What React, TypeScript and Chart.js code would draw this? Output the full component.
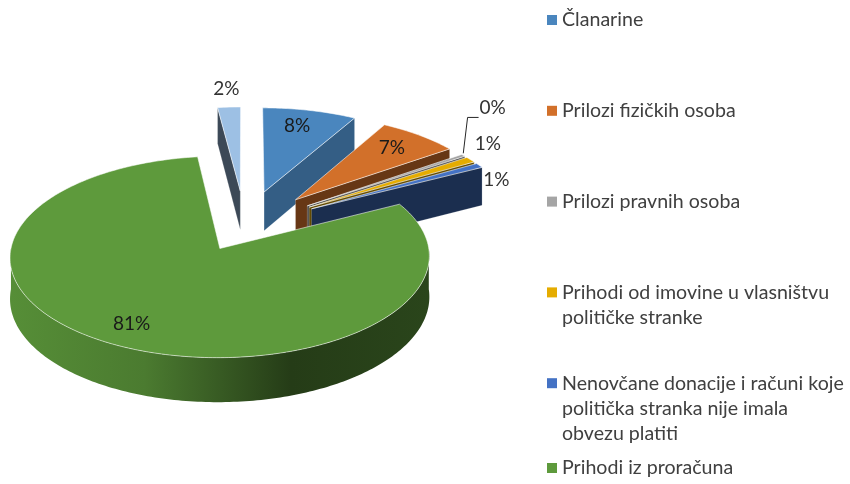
import React, { useEffect, useRef } from "react";
import { Chart, registerables } from "chart.js";

Chart.register(...registerables);

// ---------- data ----------
const categories = [
  "Članarine",
  "Prilozi fizičkih osoba",
  "Prilozi pravnih osoba",
  "Prihodi od imovine u vlasništvu političke stranke",
  "Nenovčane donacije i računi koje politička stranka nije imala obvezu platiti",
  "Prihodi iz proračuna",
  "Ostali prihodi",
];
const legendLines = [
  ["Članarine"],
  ["Prilozi fizičkih osoba"],
  ["Prilozi pravnih osoba"],
  ["Prihodi od imovine u vlasništvu", "političke stranke"],
  ["Nenovčane donacije i računi koje", "politička stranka nije imala", "obvezu platiti"],
  ["Prihodi iz proračuna"],
];
const values = [8.2, 7.0, 0.4, 1.0, 0.8, 80.6, 2.0];

// ---------- styles ----------
const sliceColors = ["#4A86BE", "#D2702A", "#A5A5A5", "#E5AC00", "#4472C4", "#5E9A3C", "#9DC0E4"];
const sliceOffsets = [77, 77, 77, 77, 77, 53, 77];
const TILT = 0.47;
const PERSP = 1 / 2500;
const DEPTH = 40;
const RADIUS = 205;
const FONT = "Lato, 'Liberation Sans', sans-serif";

function shade(hex: string, f: number) {
  const n = parseInt(hex.slice(1), 16);
  const c = (v: number) => Math.max(0, Math.min(255, Math.round(v * f)));
  return `rgb(${c((n >> 16) & 255)},${c((n >> 8) & 255)},${c(n & 255)})`;
}

type P = { x: number; y: number; sc: number };

const pie3dPlugin = {
  id: "pie3d",
  beforeDatasetsDraw(chart: any) {
    const ctx: CanvasRenderingContext2D = chart.ctx;
    const meta = chart.getDatasetMeta(0);
    const total = values.reduce((a, b) => a + b, 0);
    const slices = meta.data.map((arc: any, i: number) => {
      const p = arc.getProps(["x", "y", "startAngle", "endAngle", "outerRadius"], true);
      const off = arc.options.offset || 0;
      const mid = (p.startAngle + p.endAngle) / 2;
      return {
        i,
        cx: p.x,
        cy: p.y,
        s: p.startAngle,
        e: p.endAngle,
        R: p.outerRadius,
        mid,
        ou: Math.cos(mid) * off,
        ov: Math.sin(mid) * off,
      };
    });
    const proj = (sl: any, u: number, v: number, z: number): P => {
      const U = sl.ou + u;
      const V = sl.ov + v;
      const sc = 1 / (1 - PERSP * V);
      return { x: sl.cx + U * sc, y: sl.cy + (TILT * V + z) * sc, sc };
    };
    const pt = (sl: any, a: number, r: number, z: number) => proj(sl, r * Math.cos(a), r * Math.sin(a), z);
    const arcPts = (sl: any, a0: number, a1: number, r: number, z: number) => {
      const n = Math.max(2, Math.ceil(Math.abs(a1 - a0) / (Math.PI / 180)));
      const out: P[] = [];
      for (let k = 0; k <= n; k++) out.push(pt(sl, a0 + ((a1 - a0) * k) / n, r, z));
      return out;
    };
    const path = (pts: P[]) => {
      ctx.beginPath();
      pts.forEach((p, k) => (k ? ctx.lineTo(p.x, p.y) : ctx.moveTo(p.x, p.y)));
      ctx.closePath();
    };

    const order = [...slices].sort(
      (a: any, b: any) => a.ov + Math.sin(a.mid) * a.R * 0.5 - (b.ov + Math.sin(b.mid) * b.R * 0.5)
    );
    ctx.save();
    for (const sl of order) {
      const col = sliceColors[sl.i];
      const A0 = proj(sl, 0, 0, 0);
      const A1 = proj(sl, 0, 0, DEPTH);
      const wall = (a: number, nu: number) => {
        const f = Math.max(0.38, 0.07 + 0.725 * nu);
        path([A0, pt(sl, a, sl.R, 0), pt(sl, a, sl.R, DEPTH), A1]);
        ctx.fillStyle = shade(col, f);
        ctx.fill();
        ctx.strokeStyle = "rgba(255,255,255,0.25)";
        ctx.lineWidth = 0.8;
        ctx.stroke();
      };
      if (-Math.cos(sl.s) > 0.01) wall(sl.s, Math.sin(sl.s));
      if (Math.cos(sl.e) > 0.01) wall(sl.e, -Math.sin(sl.e));
      const a0 = Math.max(sl.s, 0);
      const a1 = Math.min(sl.e, Math.PI);
      if (a1 > a0) {
        const top = arcPts(sl, a0, a1, sl.R, 0);
        const bot = arcPts(sl, a1, a0, sl.R, DEPTH);
        const xl = pt(sl, Math.PI, sl.R, 0).x;
        const xr = pt(sl, 0, sl.R, 0).x;
        const gr = ctx.createLinearGradient(xl, 0, xr, 0);
        gr.addColorStop(0, shade(col, 0.92));
        gr.addColorStop(0.32, shade(col, 0.8));
        gr.addColorStop(0.67, shade(col, 0.39));
        gr.addColorStop(1, shade(col, 0.45));
        path([...top, ...bot]);
        ctx.fillStyle = gr;
        ctx.fill();
      }
      path([A0, ...arcPts(sl, sl.s, sl.e, sl.R, 0)]);
      ctx.fillStyle = col;
      ctx.fill();
      ctx.strokeStyle = "rgba(255,255,255,0.55)";
      ctx.lineWidth = 1;
      ctx.stroke();
    }

    // data labels
    ctx.font = `19px ${FONT}`;
    ctx.textAlign = "center";
    ctx.textBaseline = "middle";
    const outs: any[] = [];
    for (const sl of slices) {
      const share = values[sl.i] / total;
      const txt = Math.round(share * 100) + "%";
      if (share >= 0.03) {
        const p = pt(sl, sl.mid, sl.R * 0.8, 0);
        ctx.fillStyle = "#1a1a1a";
        ctx.fillText(txt, p.x - 4, p.y);
      } else {
        const an = pt(sl, sl.mid, sl.R, 0);
        const ap = proj(sl, 0, 0, 0);
        let dx = an.x - ap.x;
        let dy = an.y - ap.y;
        const L = Math.hypot(dx, dy);
        dx /= L;
        dy /= L;
        const w = ctx.measureText(txt).width;
        const h = 16;
        const ext = (Math.abs(dx) * w) / 2 + (Math.abs(dy) * h) / 2 + 11 * Math.abs(dy);
        const x = an.x + dx * ext;
        const y = an.y + dy * ext + (DEPTH / 2) * an.sc * Math.abs(dx);
        outs.push({ txt, x, y, y0: y, w, an });
      }
    }
    outs.sort((a, b) => b.y - a.y);
    const done: any[] = [];
    for (const o of outs) {
      for (const d of done) {
        if (Math.abs(d.x - o.x) < (d.w + o.w) / 2 + 4 && Math.abs(d.y - o.y) < 36) o.y = d.y - 36;
      }
      done.push(o);
      if (o.y0 - o.y > 40) {
        o.x += 12;
        const lx = o.x - o.w / 2 - 1;
        const ly = o.y + 10;
        ctx.beginPath();
        ctx.moveTo(lx, ly);
        ctx.lineTo(lx - 11, ly);
        ctx.lineTo(o.an.x, o.an.y - 2);
        ctx.strokeStyle = "#262626";
        ctx.lineWidth = 1;
        ctx.stroke();
      }
      ctx.fillStyle = "#333333";
      ctx.fillText(o.txt, o.x, o.y);
    }
    ctx.restore();
    return false;
  },
};

const legendPlugin = {
  id: "sideLegend",
  afterDraw(chart: any) {
    const ctx: CanvasRenderingContext2D = chart.ctx;
    ctx.save();
    ctx.font = `19.6px ${FONT}`;
    ctx.textAlign = "left";
    ctx.textBaseline = "middle";
    legendLines.forEach((lines, i) => {
      const y = Math.min(20 + i * 90.8, chart.height - 16);
      ctx.fillStyle = sliceColors[i];
      ctx.fillRect(547, y - 5, 10, 10);
      ctx.fillStyle = "#404040";
      lines.forEach((t, j) => ctx.fillText(t, 562, y + j * 25));
    });
    ctx.restore();
  },
};

export default function App() {
  const ref = useRef<HTMLCanvasElement>(null);
  useEffect(() => {
    const chart = new Chart(ref.current!, {
      type: "pie",
      data: {
        labels: categories,
        datasets: [
          {
            data: values,
            backgroundColor: sliceColors,
            offset: sliceOffsets,
            borderWidth: 0,
          } as any,
        ],
      },
      options: {
        responsive: false,
        animation: false,
        radius: RADIUS,
        events: [],
        layout: { padding: { left: 0, top: 0, right: 360, bottom: 32 } },
        plugins: {
          legend: { display: false },
          tooltip: { enabled: false },
          title: { display: false },
        },
      } as any,
      plugins: [pie3dPlugin, legendPlugin],
    });
    return () => chart.destroy();
  }, []);
  return (
    <div style={{ position: "fixed", left: 0, top: 0, width: 850, height: 484, background: "#fff" }}>
      <canvas ref={ref} width={850} height={484} />
    </div>
  );
}
